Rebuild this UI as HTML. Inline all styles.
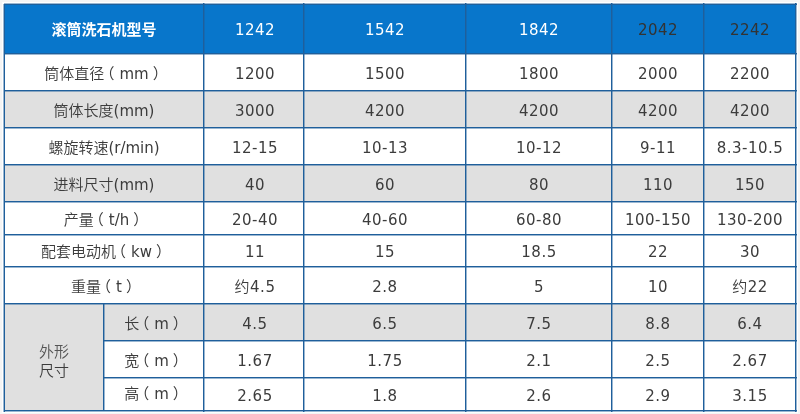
<!DOCTYPE html>
<html><head><meta charset="utf-8"><style>
html,body{margin:0;padding:0;-webkit-font-smoothing:antialiased;}
body{width:800px;height:414px;background:#f5f5f5;position:relative;overflow:hidden;
font-family:"DejaVu Sans","Noto Sans CJK SC",sans-serif;font-size:15px;letter-spacing:0.5px;color:#3c3c3c;}
.frame{position:absolute;left:2px;top:2px;width:796px;height:411px;background:#fff;}
.c{will-change:transform;position:absolute;display:flex;align-items:center;justify-content:center;white-space:nowrap;}
.c>span{display:block;line-height:16px;position:relative;top:1px;}
.ln{position:absolute;background:#1f5f9b;}
.ls{position:absolute;background:rgba(31,95,155,0.45);}
.hd{color:#fff;}
.lb{letter-spacing:0;}
.hdk{color:#333;}
.hb span{font-weight:bold;}
.mg>span{text-align:center;line-height:19px;position:relative;top:4px;}
.s1{color:#555;}
.c1>span{left:1px;}
.up>span{top:-1px;}
.pl{position:relative;left:-5px;}
.k{font-weight:350;}
.pr{position:relative;left:4px;}
</style></head><body>
<div class="frame"></div>
<div class="c hd hb lb" style="left:4px;top:4px;width:200px;height:50px;background:#0876cb"><span>滚筒洗石机型号</span></div>
<div class="c hd c1" style="left:204px;top:4px;width:100px;height:50px;background:#0876cb"><span>1242</span></div>
<div class="c hd" style="left:304px;top:4px;width:162px;height:50px;background:#0876cb"><span>1542</span></div>
<div class="c hd" style="left:466px;top:4px;width:146px;height:50px;background:#0876cb"><span>1842</span></div>
<div class="c hd hdk" style="left:612px;top:4px;width:92px;height:50px;background:#0876cb"><span>2042</span></div>
<div class="c hd hdk" style="left:704px;top:4px;width:92px;height:50px;background:#0876cb"><span>2242</span></div>
<div class="c lb" style="left:4px;top:54px;width:200px;height:37px;background:#fff"><span><span class="k">筒体直径</span><span class="pl">（</span>mm<span class="pr">）</span></span></div>
<div class="c c1" style="left:204px;top:54px;width:100px;height:37px;background:#fff"><span>1200</span></div>
<div class="c " style="left:304px;top:54px;width:162px;height:37px;background:#fff"><span>1500</span></div>
<div class="c " style="left:466px;top:54px;width:146px;height:37px;background:#fff"><span>1800</span></div>
<div class="c " style="left:612px;top:54px;width:92px;height:37px;background:#fff"><span>2000</span></div>
<div class="c " style="left:704px;top:54px;width:92px;height:37px;background:#fff"><span>2200</span></div>
<div class="c lb" style="left:4px;top:91px;width:200px;height:37px;background:#e0e0e0"><span><span class="k">筒体长度</span>(mm)</span></div>
<div class="c c1" style="left:204px;top:91px;width:100px;height:37px;background:#e0e0e0"><span>3000</span></div>
<div class="c " style="left:304px;top:91px;width:162px;height:37px;background:#e0e0e0"><span>4200</span></div>
<div class="c " style="left:466px;top:91px;width:146px;height:37px;background:#e0e0e0"><span>4200</span></div>
<div class="c " style="left:612px;top:91px;width:92px;height:37px;background:#e0e0e0"><span>4200</span></div>
<div class="c " style="left:704px;top:91px;width:92px;height:37px;background:#e0e0e0"><span>4200</span></div>
<div class="c lb" style="left:4px;top:128px;width:200px;height:37px;background:#fff"><span><span class="k">螺旋转速</span>(r/min)</span></div>
<div class="c c1" style="left:204px;top:128px;width:100px;height:37px;background:#fff"><span>12-15</span></div>
<div class="c " style="left:304px;top:128px;width:162px;height:37px;background:#fff"><span>10-13</span></div>
<div class="c " style="left:466px;top:128px;width:146px;height:37px;background:#fff"><span>10-12</span></div>
<div class="c " style="left:612px;top:128px;width:92px;height:37px;background:#fff"><span>9-11</span></div>
<div class="c " style="left:704px;top:128px;width:92px;height:37px;background:#fff"><span>8.3-10.5</span></div>
<div class="c lb" style="left:4px;top:165px;width:200px;height:37px;background:#e0e0e0"><span><span class="k">进料尺寸</span>(mm)</span></div>
<div class="c c1" style="left:204px;top:165px;width:100px;height:37px;background:#e0e0e0"><span>40</span></div>
<div class="c " style="left:304px;top:165px;width:162px;height:37px;background:#e0e0e0"><span>60</span></div>
<div class="c " style="left:466px;top:165px;width:146px;height:37px;background:#e0e0e0"><span>80</span></div>
<div class="c " style="left:612px;top:165px;width:92px;height:37px;background:#e0e0e0"><span>110</span></div>
<div class="c " style="left:704px;top:165px;width:92px;height:37px;background:#e0e0e0"><span>150</span></div>
<div class="c lb" style="left:4px;top:202px;width:200px;height:33px;background:#fff"><span><span class="k">产量</span><span class="pl">（</span>t/h<span class="pr">）</span></span></div>
<div class="c c1" style="left:204px;top:202px;width:100px;height:33px;background:#fff"><span>20-40</span></div>
<div class="c " style="left:304px;top:202px;width:162px;height:33px;background:#fff"><span>40-60</span></div>
<div class="c " style="left:466px;top:202px;width:146px;height:33px;background:#fff"><span>60-80</span></div>
<div class="c " style="left:612px;top:202px;width:92px;height:33px;background:#fff"><span>100-150</span></div>
<div class="c " style="left:704px;top:202px;width:92px;height:33px;background:#fff"><span>130-200</span></div>
<div class="c lb" style="left:4px;top:235px;width:200px;height:32px;background:#fff"><span><span class="k">配套电动机</span><span class="pl">（</span>kw<span class="pr">）</span></span></div>
<div class="c c1" style="left:204px;top:235px;width:100px;height:32px;background:#fff"><span>11</span></div>
<div class="c " style="left:304px;top:235px;width:162px;height:32px;background:#fff"><span>15</span></div>
<div class="c " style="left:466px;top:235px;width:146px;height:32px;background:#fff"><span>18.5</span></div>
<div class="c " style="left:612px;top:235px;width:92px;height:32px;background:#fff"><span>22</span></div>
<div class="c " style="left:704px;top:235px;width:92px;height:32px;background:#fff"><span>30</span></div>
<div class="c lb" style="left:4px;top:267px;width:200px;height:37px;background:#fff"><span><span class="k">重量</span><span class="pl">（</span>t<span class="pr">）</span></span></div>
<div class="c c1" style="left:204px;top:267px;width:100px;height:37px;background:#fff"><span><span class="k">约</span>4.5</span></div>
<div class="c " style="left:304px;top:267px;width:162px;height:37px;background:#fff"><span>2.8</span></div>
<div class="c " style="left:466px;top:267px;width:146px;height:37px;background:#fff"><span>5</span></div>
<div class="c " style="left:612px;top:267px;width:92px;height:37px;background:#fff"><span>10</span></div>
<div class="c " style="left:704px;top:267px;width:92px;height:37px;background:#fff"><span><span class="k">约</span>22</span></div>
<div class="c lb" style="left:104px;top:304px;width:100px;height:37px;background:#e0e0e0"><span><span class="k">长</span><span class="pl">（</span>m<span class="pr">）</span></span></div>
<div class="c c1" style="left:204px;top:304px;width:100px;height:37px;background:#e0e0e0"><span>4.5</span></div>
<div class="c " style="left:304px;top:304px;width:162px;height:37px;background:#e0e0e0"><span>6.5</span></div>
<div class="c " style="left:466px;top:304px;width:146px;height:37px;background:#e0e0e0"><span>7.5</span></div>
<div class="c " style="left:612px;top:304px;width:92px;height:37px;background:#e0e0e0"><span>8.8</span></div>
<div class="c " style="left:704px;top:304px;width:92px;height:37px;background:#e0e0e0"><span>6.4</span></div>
<div class="c lb" style="left:104px;top:341px;width:100px;height:37px;background:#fff"><span><span class="k">宽</span><span class="pl">（</span>m<span class="pr">）</span></span></div>
<div class="c c1" style="left:204px;top:341px;width:100px;height:37px;background:#fff"><span>1.67</span></div>
<div class="c " style="left:304px;top:341px;width:162px;height:37px;background:#fff"><span>1.75</span></div>
<div class="c " style="left:466px;top:341px;width:146px;height:37px;background:#fff"><span>2.1</span></div>
<div class="c " style="left:612px;top:341px;width:92px;height:37px;background:#fff"><span>2.5</span></div>
<div class="c " style="left:704px;top:341px;width:92px;height:37px;background:#fff"><span>2.67</span></div>
<div class="c lb up" style="left:104px;top:378px;width:100px;height:33px;background:#fff"><span><span class="k">高</span><span class="pl">（</span>m<span class="pr">）</span></span></div>
<div class="c c1" style="left:204px;top:378px;width:100px;height:33px;background:#fff"><span>2.65</span></div>
<div class="c " style="left:304px;top:378px;width:162px;height:33px;background:#fff"><span>1.8</span></div>
<div class="c " style="left:466px;top:378px;width:146px;height:33px;background:#fff"><span>2.6</span></div>
<div class="c " style="left:612px;top:378px;width:92px;height:33px;background:#fff"><span>2.9</span></div>
<div class="c " style="left:704px;top:378px;width:92px;height:33px;background:#fff"><span>3.15</span></div>
<div class="c mg lb" style="left:4px;top:304px;width:100px;height:107px;background:#e0e0e0"><span><span class="s1 k">外形</span><br><span class="k">尺寸</span></span></div>
<div class="ln" style="left:4px;top:4px;width:1px;height:408px"></div>
<div class="ls" style="left:3px;top:4px;width:1px;height:408px"></div>
<div class="ln" style="left:203px;top:3px;width:1px;height:409px"></div>
<div class="ls" style="left:204px;top:3px;width:1px;height:409px"></div>
<div class="ln" style="left:303px;top:3px;width:1px;height:409px"></div>
<div class="ls" style="left:304px;top:3px;width:1px;height:409px"></div>
<div class="ln" style="left:465px;top:3px;width:1px;height:409px"></div>
<div class="ls" style="left:466px;top:3px;width:1px;height:409px"></div>
<div class="ln" style="left:611px;top:3px;width:1px;height:409px"></div>
<div class="ls" style="left:612px;top:3px;width:1px;height:409px"></div>
<div class="ln" style="left:703px;top:3px;width:1px;height:409px"></div>
<div class="ls" style="left:704px;top:3px;width:1px;height:409px"></div>
<div class="ln" style="left:795px;top:3px;width:1px;height:409px"></div>
<div class="ls" style="left:796px;top:3px;width:1px;height:409px"></div>
<div class="ln" style="left:4px;top:4px;width:793px;height:1px"></div>
<div class="ls" style="left:4px;top:3px;width:793px;height:1px"></div>
<div class="ln" style="left:4px;top:53px;width:793px;height:1px"></div>
<div class="ls" style="left:4px;top:54px;width:793px;height:1px"></div>
<div class="ln" style="left:4px;top:90px;width:793px;height:1px"></div>
<div class="ls" style="left:4px;top:91px;width:793px;height:1px"></div>
<div class="ln" style="left:4px;top:127px;width:793px;height:1px"></div>
<div class="ls" style="left:4px;top:128px;width:793px;height:1px"></div>
<div class="ln" style="left:4px;top:164px;width:793px;height:1px"></div>
<div class="ls" style="left:4px;top:165px;width:793px;height:1px"></div>
<div class="ln" style="left:4px;top:201px;width:793px;height:1px"></div>
<div class="ls" style="left:4px;top:202px;width:793px;height:1px"></div>
<div class="ln" style="left:4px;top:234px;width:793px;height:1px"></div>
<div class="ls" style="left:4px;top:235px;width:793px;height:1px"></div>
<div class="ln" style="left:4px;top:266px;width:793px;height:1px"></div>
<div class="ls" style="left:4px;top:267px;width:793px;height:1px"></div>
<div class="ln" style="left:4px;top:303px;width:793px;height:1px"></div>
<div class="ls" style="left:4px;top:304px;width:793px;height:1px"></div>
<div class="ln" style="left:103px;top:340px;width:694px;height:1px"></div>
<div class="ls" style="left:103px;top:341px;width:694px;height:1px"></div>
<div class="ln" style="left:103px;top:377px;width:694px;height:1px"></div>
<div class="ls" style="left:103px;top:378px;width:694px;height:1px"></div>
<div class="ln" style="left:4px;top:410px;width:793px;height:1px"></div>
<div class="ls" style="left:4px;top:411px;width:793px;height:1px"></div>
<div class="ln" style="left:103px;top:303px;width:1px;height:107px"></div>
<div class="ls" style="left:104px;top:303px;width:1px;height:107px"></div>
</body></html>
